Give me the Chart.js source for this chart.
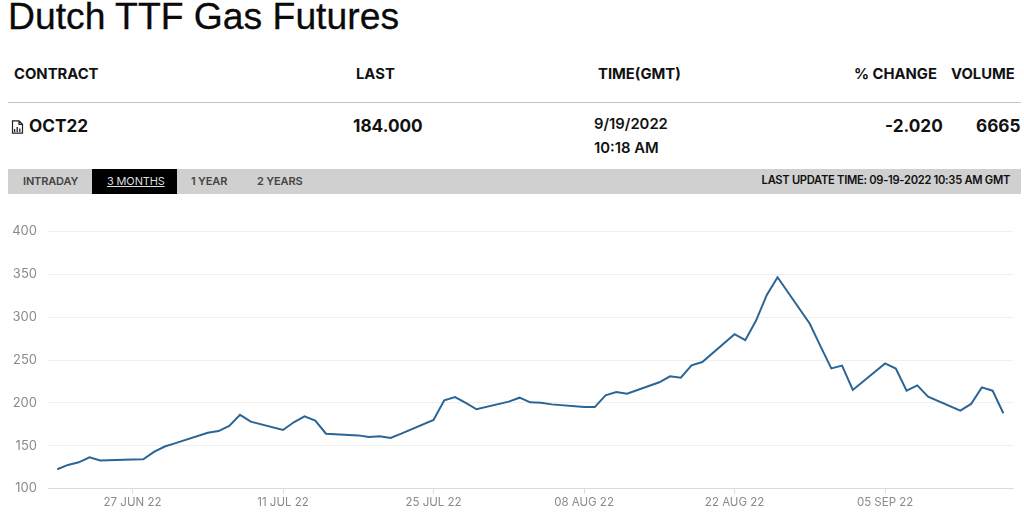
<!DOCTYPE html>
<html><head><meta charset="utf-8">
<script src="https://cdn.jsdelivr.net/npm/chart.js@4/dist/chart.umd.min.js"></script>
<style>
html,body{margin:0;padding:0;background:#fff;width:1024px;height:514px;overflow:hidden;font-family:Inter,"Liberation Sans",sans-serif;color:#111}
.t{position:absolute;white-space:nowrap;line-height:1}
.h{font-weight:700;font-size:14.8px}
.v{font-weight:700;font-size:17.2px}
.d{font-weight:600;font-size:14.8px}
.s{font-weight:600;font-size:11px;color:#444;letter-spacing:-.15px}
#rule{position:absolute;left:8px;top:102px;width:1013px;height:1px;background:#c4c4c4}
#bar{position:absolute;left:8px;top:169px;width:1013px;height:25px;background:#d0d0d0}
#tab{position:absolute;left:92px;top:169px;width:85px;height:25px;background:#000}
#cv{position:absolute;left:0;top:200px}
#ic{position:absolute;left:11px;top:120px}
</style></head><body>
<div class="t" style="left:8px;top:-2px;font-size:37.3px;color:#0a0a0a;font-family:'Liberation Sans',sans-serif;-webkit-text-stroke:.3px #0a0a0a">Dutch TTF Gas Futures</div>
<div class="t h" style="left:14px;top:67px">CONTRACT</div>
<div class="t h" style="left:356px;top:67px">LAST</div>
<div class="t h" style="left:598px;top:67px">TIME(GMT)</div>
<div class="t h" style="left:854px;top:67px">% CHANGE</div>
<div class="t h" style="left:951px;top:67px">VOLUME</div>
<div id="rule"></div>
<svg id="ic" width="13" height="14" viewBox="0 0 13 14"><path d="M1.5 .8H8L11.5 4.3V13.2H1.5Z M8 .8V4.3H11.5" fill="none" stroke="#222" stroke-width="1.2"/><path d="M3.6 12V9M6.2 12V7M8.8 12V8.5" stroke="#222" stroke-width="1.3"/></svg>
<div class="t v" style="left:29px;top:117px">OCT22</div>
<div class="t v" style="left:353px;top:117px">184.000</div>
<div class="t d" style="left:594px;top:117px">9/19/2022</div>
<div class="t d" style="left:594px;top:141px">10:18 AM</div>
<div class="t v" style="left:885px;top:117px">-2.020</div>
<div class="t v" style="left:976px;top:117px">6665</div>
<div id="bar"></div><div id="tab"></div>
<div class="t s" style="left:23px;top:176px">INTRADAY</div>
<div class="t s" style="left:107px;top:176px;color:#ddd;font-weight:400;text-decoration:underline">3 MONTHS</div>
<div class="t s" style="left:191px;top:176px">1 YEAR</div>
<div class="t s" style="left:257px;top:176px">2 YEARS</div>
<div class="t s" style="right:14px;top:175px;color:#111;font-size:11.2px;letter-spacing:-.3px">LAST UPDATE TIME: 09-19-2022 10:35 AM GMT</div>
<canvas id="cv" width="1024" height="314"></canvas>
<script>
// day offsets counted from 27 JUN 22
const dayOffsets = [-7,-6,-5,-4,-3,0,1,2,3,4,7,8,9,10,11,14,15,16,17,18,21,22,23,24,25,28,29,30,31,32,35,36,37,38,39,42,43,44,45,46,49,50,51,52,53,56,57,58,59,60,63,64,65,66,67,70,71,72,73,74,77,78,79,80,81];
const prices = [122.5,127.5,130.6,136.5,132.6,133.8,134,142.7,149,153,165,167,173,186,178,168.3,177.3,184.3,179.2,164,162,160,161,159,164,180,203,206.8,200,192.5,201.4,206,200.6,200.2,198.2,195,195,208.8,212.6,210.7,224,231,229.3,243.7,247.6,280.2,273.2,296,326,346.6,292.3,265.9,240.2,243.4,215,246,240,214.2,220.4,207.2,190.9,198.7,218,214.2,187.8];
const xTickDays = [0,14,28,42,56,70];
const xTickLabels = ["27 JUN 22","11 JUL 22","25 JUL 22","08 AUG 22","22 AUG 22","05 SEP 22"];
const yTicks = [100,150,200,250,300,350,400];
const points = dayOffsets.map((d,i)=>({x:d,y:prices[i]}));
new Chart(document.getElementById('cv'),{
  type:'line',
  data:{datasets:[{data:points,borderColor:'#2b6596',borderWidth:2,pointRadius:0,tension:0,fill:false}]},
  options:{
    responsive:false,animation:false,
    layout:{padding:{left:0,right:11,top:31.5,bottom:0}},
    plugins:{legend:{display:false},tooltip:{enabled:false}},
    scales:{
      x:{type:'linear',min:-7.86,max:81.9,
        afterBuildTicks:a=>{a.ticks=xTickDays.map(v=>({value:v}));},
        afterFit:a=>{a.height=25.5;},
        grid:{drawOnChartArea:false,tickLength:5,color:'#dcdcdc',offset:false},
        border:{display:true,color:'#dcdcdc'},
        ticks:{autoSkip:false,maxRotation:0,padding:2,color:'#8a8a8a',font:{family:'Inter,"Liberation Sans",sans-serif',size:11.5},
          callback:v=>xTickLabels[xTickDays.indexOf(v)]}},
      y:{min:100,max:400,
        afterBuildTicks:a=>{a.ticks=yTicks.map(v=>({value:v}));},
        afterFit:a=>{a.width=48;},
        grid:{color:'#efefef',tickLength:0,drawTicks:false},
        border:{display:false},
        ticks:{padding:11,color:'#8a8a8a',font:{family:'Inter,"Liberation Sans",sans-serif',size:13}}}
    }
  }
});
</script>
</body></html>
